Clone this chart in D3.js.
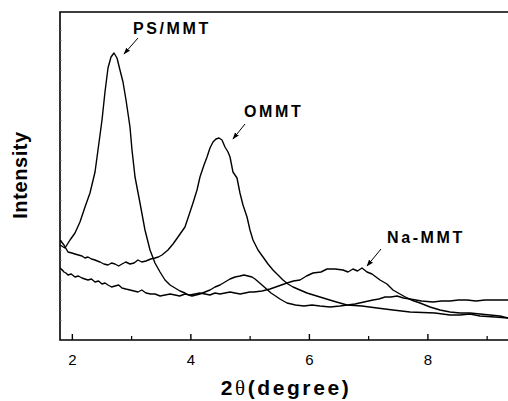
<!DOCTYPE html>
<html><head><meta charset="utf-8">
<script src="https://cdn.jsdelivr.net/npm/d3@7"></script>
<style>body{margin:0;background:#fff}svg{display:block}</style>
</head><body><svg id="c" width="508" height="401"></svg>
<script>
// 2θ (degree) and intensity (arbitrary units)
const psX = [1.800,1.884,1.969,2.053,2.137,2.222,2.306,2.391,2.441,2.509,2.559,2.610,2.661,2.711,2.762,2.812,2.863,2.914,2.981,3.015,3.066,3.150,3.234,3.319,3.403,3.488,3.572,3.657,3.741,3.825,3.909,3.968,4.027,4.095,4.162,4.247,4.331,4.416,4.500,4.584,4.669,4.753,4.837,4.905,4.972,5.040,5.091,5.150,5.209,5.285,5.361,5.437,5.512,5.571,5.631,5.774,5.917,6.052,6.187,6.356,6.525,6.651,6.778,6.930,7.082,7.183,7.284,7.385,7.487,7.596,7.706,7.900,8.094,8.238,8.381,8.524,8.668,8.820,8.972,9.166,9.360];
const psY = [95,92,100,107,118,133,147,168,190,220,248,272,283,287,282,270,258,240,213,190,163,137,110,90,77,68,60,55,52,49,47,45,44,45,46,48,50,53,55,58,61,63,64,65,64,63,61,58,55,51,47,44,41,39,37,35,34,35,34,33,34,35,36,38,40,41,43,43,44,42,41,39,38,39,39,40,40,39,40,40,40];
const ommtX = [1.800,1.867,1.935,2.000,2.053,2.110,2.171,2.220,2.272,2.330,2.391,2.430,2.475,2.540,2.610,2.670,2.728,2.790,2.846,2.910,2.981,3.050,3.116,3.180,3.251,3.330,3.403,3.460,3.521,3.622,3.707,3.791,3.909,3.994,4.044,4.112,4.162,4.230,4.281,4.331,4.382,4.432,4.483,4.534,4.584,4.635,4.669,4.719,4.787,4.837,4.888,4.956,5.006,5.057,5.141,5.226,5.310,5.394,5.479,5.563,5.647,5.732,5.850,5.968,6.187,6.407,6.643,6.896,7.149,7.419,7.706,8.128,8.381,8.550,8.719,8.887,9.141,9.360];
const ommtY = [100,95,88,87,86,85,84,82,83,81,80,79,78,76,75,77,76,74,76,78,76,77,80,78,79,81,82,83,85,90,96,103,113,128,137,150,163,175,183,192,198,201,202,200,193,188,183,168,162,147,135,123,110,100,90,83,76,70,65,60,56,53,50,47,43,39,35,34,32,30,28,27,25,25,26,24,23,22];
const naX = [1.800,1.840,1.867,1.900,1.935,1.990,2.053,2.110,2.171,2.220,2.272,2.330,2.391,2.450,2.509,2.560,2.610,2.670,2.728,2.790,2.846,2.910,2.981,3.050,3.116,3.180,3.251,3.330,3.403,3.490,3.572,3.660,3.741,3.820,3.909,3.990,4.078,4.160,4.247,4.330,4.416,4.500,4.584,4.670,4.753,4.840,4.922,5.000,5.074,5.209,5.344,5.488,5.631,5.740,5.850,5.960,6.069,6.204,6.306,6.441,6.576,6.660,6.744,6.820,6.896,6.981,7.065,7.200,7.318,7.419,7.537,7.656,7.774,7.875,8.044,8.212,8.381,8.550,8.719,8.887,9.056,9.225,9.360];
const naY = [72,70,68,67,65,66,63,64,62,61,60,61,58,59,56,57,55,53,54,55,52,51,50,49,48,50,47,46,46,44,45,46,45,44,46,45,46,47,46,45,47,46,47,48,47,46,47,48,48,49,51,54,57,59,60,64,67,68,71,71,70,68,71,69,72,68,66,60,56,50,46,42,39,37,33,30,28,27,27,26,25,24,22];
const xTicks = [2,4,6,8];
const xMinor = [3,5,7,9];
const labels = [
  {text:"PS/MMT", x:3.032, y:306, ax1:3.116, ay1:302, ax2:2.88, ay2:286},
  {text:"OMMT", x:4.905, y:223, ax1:4.922, ay1:216, ax2:4.719, ay2:201},
  {text:"Na-MMT", x:7.318, y:97, ax1:7.217, ay1:91, ax2:6.981, ay2:74}
];

const svg = d3.select("#c");
const L = 60, R = 508, T = 12, B = 340;
const x = d3.scaleLinear().domain([1.8, 9.36]).range([L, R]);
const y = d3.scaleLinear().domain([0, 328]).range([B, T]);

const defs = svg.append("defs");
defs.append("marker").attr("id","ah").attr("viewBox","0 0 10 10")
  .attr("refX",9).attr("refY",5).attr("markerWidth",7).attr("markerHeight",7)
  .attr("orient","auto").append("path").attr("d","M0,1.5L10,5L0,8.5Z").attr("fill","#000");
defs.append("clipPath").attr("id","clip").append("rect")
  .attr("x",L).attr("y",T).attr("width",R-L).attr("height",B-T);

// frame (right side runs off the picture)
svg.append("path").attr("d",`M${R+2},${T}H${L}V${B}H${R+2}`)
  .attr("fill","none").attr("stroke","#000").attr("stroke-width",1.6);

// x ticks (inward)
const gx = svg.append("g").attr("transform",`translate(0,${B})`)
  .call(d3.axisBottom(x).tickValues(xTicks).tickSize(-6).tickFormat(d3.format("d")).tickPadding(14));
gx.select(".domain").remove();
gx.selectAll("line").attr("stroke","#000").attr("stroke-width",1.4);
gx.selectAll("text").attr("font-family","Liberation Sans, Arial, sans-serif").attr("font-size",15).attr("fill","#000");
const gm = svg.append("g").attr("transform",`translate(0,${B})`)
  .call(d3.axisBottom(x).tickValues(xMinor).tickSize(-4).tickFormat(""));
gm.select(".domain").remove();
gm.selectAll("line").attr("stroke","#000").attr("stroke-width",1.2);

// faint left ticks
const gy = svg.append("g").attr("transform",`translate(${L},0)`)
  .call(d3.axisLeft(y).tickValues(d3.range(20, 320, 10)).tickSize(-2).tickFormat(""));
gy.select(".domain").remove();
gy.selectAll("line").attr("stroke","#888").attr("stroke-width",0.7);

// curves
const line = d3.line().x(d => x(d[0])).y(d => y(d[1])).curve(d3.curveLinear);
const series = [d3.zip(psX, psY), d3.zip(ommtX, ommtY), d3.zip(naX, naY)];
svg.append("g").attr("clip-path","url(#clip)").selectAll("path").data(series).join("path")
  .attr("d", line).attr("fill","none").attr("stroke","#000").attr("stroke-width",1.4)
  .attr("stroke-linejoin","round");

// annotations
const ga = svg.append("g");
labels.forEach(l => {
  ga.append("text").attr("x", x(l.x)).attr("y", y(l.y)).text(l.text)
    .attr("font-family","Liberation Sans, Arial, sans-serif").attr("font-weight","bold")
    .attr("font-size",16).attr("letter-spacing","2.6px").attr("fill","#000");
  ga.append("line").attr("x1",x(l.ax1)).attr("y1",y(l.ay1)).attr("x2",x(l.ax2)).attr("y2",y(l.ay2))
    .attr("stroke","#000").attr("stroke-width",1).attr("marker-end","url(#ah)");
});

// axis titles
svg.append("text").attr("x", 286).attr("y", 395).attr("text-anchor","middle")
  .attr("font-family","Liberation Sans, Arial, sans-serif").attr("font-weight","bold")
  .attr("font-size",21).attr("letter-spacing","2.6px").attr("fill","#000")
  .html('2<tspan font-family="Liberation Serif, Times New Roman, serif" font-weight="normal">θ</tspan>(degree)');
svg.append("text").attr("transform","translate(27,175) rotate(-90)").attr("text-anchor","middle")
  .attr("font-family","Liberation Sans, Arial, sans-serif").attr("font-weight","bold")
  .attr("font-size",20).attr("letter-spacing","0.6px").attr("fill","#000").text("Intensity");
</script></body></html>
